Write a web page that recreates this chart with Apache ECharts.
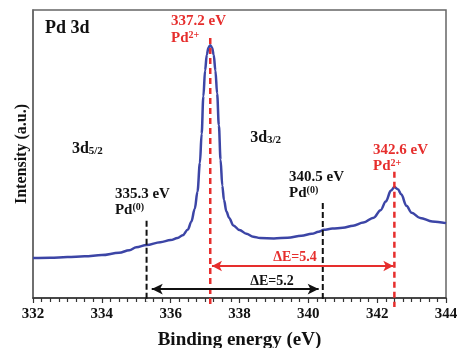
<!DOCTYPE html>
<html>
<head>
<meta charset="utf-8">
<script src="https://cdn.jsdelivr.net/npm/echarts@6.0.0/dist/echarts.min.js"></script>
<style>
  html, body { margin: 0; padding: 0; background: #fff; }
  #chart { width: 457px; height: 348px; }
</style>
</head>
<body>
<div id="chart"></div>
<script>
// Pd 3d XPS spectrum (intensity in arbitrary units, 0-100)
const energy = [
  332.0, 332.5, 333.0, 333.5, 334.0, 334.5, 334.8, 335.0, 335.3, 335.7,
  336.0, 336.2, 336.35, 336.5, 336.6, 336.7, 336.78, 336.85, 336.9, 336.95,
  337.0, 337.05, 337.1, 337.15, 337.2, 337.25, 337.3, 337.35, 337.4, 337.45,
  337.5, 337.55, 337.62, 337.7, 337.82, 338.0, 338.2, 338.4, 338.6, 339.0,
  339.4, 339.8, 340.1, 340.3, 340.45, 340.7, 341.0, 341.3, 341.6, 341.9,
  342.1, 342.25, 342.4, 342.5, 342.6, 342.7, 342.85, 343.0, 343.25, 343.6,
  344.0
];
const intensity = [
  13.9, 14.0, 14.2, 14.5, 14.9, 15.7, 16.6, 17.6, 18.4, 19.4,
  20.1, 20.8, 21.8, 23.8, 26.5, 31.0, 37.0, 47.0, 57.0, 70.0,
  79.0, 84.5, 87.0, 87.8, 87.0, 84.5, 79.0, 71.0, 60.0, 48.0,
  39.0, 34.0, 30.0, 27.8, 25.2, 23.6, 22.3, 21.3, 20.8, 20.7,
  20.9, 21.6, 22.3, 23.0, 23.7, 24.1, 24.4, 25.1, 26.2, 27.9,
  30.5, 33.5, 37.3, 38.5, 37.8, 36.0, 32.0, 29.6, 27.8, 26.6,
  26.0
];
const xTicks = [332, 334, 336, 338, 340, 342, 344];

// marker positions as drawn (eV)
const pd2Lines = [337.15, 342.5];
const pd2Tops = [90.3, 43.8];
const pd0Lines = [335.3, 340.42];
const pd0Tops = [26.8, 33.0];
const arrowRed = [337.2, 342.47];
const arrowBlack = [335.45, 340.3];

const RED = '#e62e2d';
const BLUE = '#3c45a6';
const FONT = 'Liberation Serif';

const chart = echarts.init(document.getElementById('chart'), null, { renderer: 'canvas' });

// dashed guide lines go a little below the axis, so draw them as unclipped line series
function guide(x, top, bottom, color, width, dash) {
  return {
    type: 'line',
    data: [[x, top], [x, bottom]],
    showSymbol: false,
    clip: false,
    silent: true,
    z: 3,
    lineStyle: { color: color, width: width, type: dash },
  };
}
const guides = [];
pd2Lines.forEach((x, i) => guides.push(guide(x, pd2Tops[i], -3.1, RED, 2.5, [6, 4])));
pd0Lines.forEach((x, i) => guides.push(guide(x, pd0Tops[i], -1.4, '#111', 2, [6, 3])));

const arrows = [
  [
    { coord: [arrowRed[0], 11.1], symbol: 'arrow', symbolSize: [8, 10], lineStyle: { color: RED, width: 1.8, type: 'solid' } },
    { coord: [arrowRed[1], 11.1], symbol: 'arrow', symbolSize: [8, 10] },
  ],
  [
    { coord: [arrowBlack[0], 3.1], symbol: 'arrow', symbolSize: [8, 11], lineStyle: { color: '#111', width: 2, type: 'solid' } },
    { coord: [arrowBlack[1], 3.1], symbol: 'arrow', symbolSize: [8, 11] },
  ],
];

// text annotations: [x, y (left edge, vertical centre), text, colour, size]
const notes = [
  [332.35, 93.7, 'Pd 3d', '#111', 18],
  [333.13, 52.1, '{b|3d}{s|5/2}', '#111', 16],
  [338.31, 55.9, '{b|3d}{s|3/2}', '#111', 16],
  [336.01, 96.2, '337.2 eV', RED, 15],
  [336.01, 90.4, 'Pd{sup|2+}', RED, 15],
  [341.88, 51.3, '342.6 eV', RED, 15],
  [341.88, 45.8, 'Pd{sup|2+}', RED, 15],
  [334.38, 35.9, '335.3 eV', '#111', 15],
  [334.38, 30.6, 'Pd{sup|(0)}', '#111', 15],
  [339.44, 42.0, '340.5 eV', '#111', 15],
  [339.44, 36.5, 'Pd{sup|(0)}', '#111', 15],
  [338.98, 14.2, 'ΔE=5.4', RED, 14],
  [338.31, 5.9, 'ΔE=5.2', '#111', 14],
];

const option = {
  animation: false,
  backgroundColor: '#fff',
  grid: {
    left: 33, right: 11, top: 10, bottom: 50,
    outerBoundsMode: 'none',
    containLabel: false,
    show: true, borderColor: '#666', borderWidth: 1.5,
  },
  xAxis: {
    type: 'value',
    min: xTicks[0],
    max: xTicks[xTicks.length - 1],
    interval: 2,
    name: 'Binding energy (eV)',
    nameLocation: 'middle',
    nameGap: 33,
    nameTextStyle: { fontFamily: FONT, fontWeight: 'bold', fontSize: 19, color: '#111' },
    axisLine: { lineStyle: { color: '#333', width: 1.5 } },
    axisTick: { length: 5, lineStyle: { color: '#333', width: 1.2 } },
    minorTick: { show: true, splitNumber: 8, length: 4, lineStyle: { color: '#333', width: 1.2 } },
    splitLine: { show: false },
    axisLabel: { fontFamily: FONT, fontWeight: 'bold', fontSize: 15, color: '#111', margin: 9 },
  },
  yAxis: {
    type: 'value',
    min: 0,
    max: 100,
    name: 'Intensity (a.u.)',
    nameLocation: 'middle',
    nameGap: 3,
    nameTextStyle: { fontFamily: FONT, fontWeight: 'bold', fontSize: 16, color: '#111' },
    axisLine: { show: true, lineStyle: { color: '#666', width: 1.5 } },
    axisTick: { show: false },
    axisLabel: { show: false },
    splitLine: { show: false },
  },
  series: [
    {
      type: 'line',
      data: energy.map((e, i) => [e, intensity[i]]),
      showSymbol: false,
      smooth: 0.35,
      smoothMonotone: 'x',
      clip: false,
      z: 2,
      lineStyle: { color: BLUE, width: 2.5 },
      markLine: {
        silent: true,
        symbol: ['none', 'none'],
        label: { show: false },
        data: arrows,
      },
    },
    ...guides,
    {
      type: 'scatter',
      silent: true,
      symbolSize: 0,
      clip: false,
      itemStyle: { opacity: 1 },
      data: notes.map(([x, y, text, color, size]) => ({
        value: [x, y],
        label: {
          show: true,
          position: 'right',
          distance: 0,
          formatter: text,
          color: color,
          opacity: 1,
          fontSize: size,
          fontFamily: FONT,
          fontWeight: 'bold',
          rich: {
            b: { fontFamily: FONT, fontWeight: 'bold', fontSize: size, color: color, verticalAlign: 'bottom', lineHeight: size + 2 },
            s: { fontFamily: FONT, fontWeight: 'bold', fontSize: 11, color: color, verticalAlign: 'bottom', lineHeight: 15 },
            sup: { fontFamily: FONT, fontWeight: 'bold', fontSize: 10, color: color, verticalAlign: 'top', lineHeight: 11 },
          },
        },
      })),
    },
  ],
};

chart.setOption(option);
</script>
</body>
</html>
